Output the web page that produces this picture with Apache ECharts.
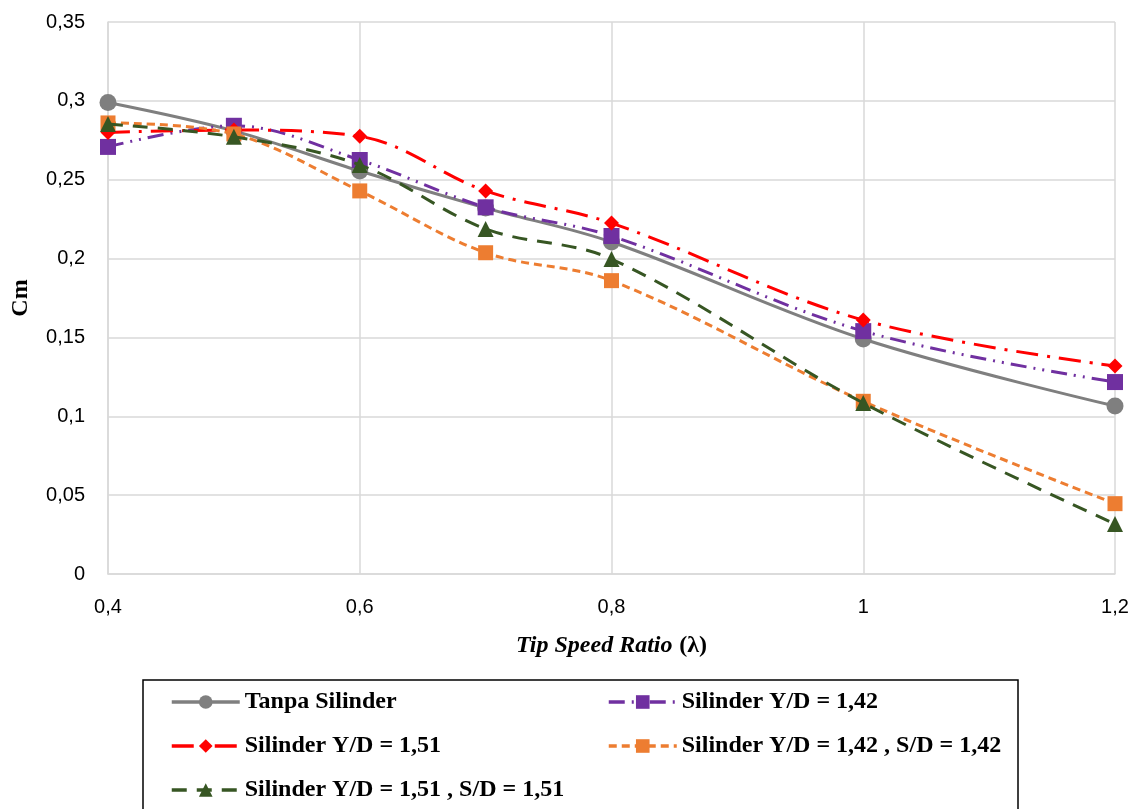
<!DOCTYPE html>
<html>
<head>
<meta charset="utf-8">
<script src="https://cdn.jsdelivr.net/npm/echarts@6/dist/echarts.min.js"></script>
<style>
  html, body { margin: 0; padding: 0; background: #fff; }
  #chart { width: 1141px; height: 809px; }
</style>
</head>
<body>
<div id="chart"></div>
<script>
// Tip speed ratio values (x)
const tsr = [0.4, 0.5, 0.6, 0.7, 0.8, 1.0, 1.2];

// Moment coefficient Cm for each configuration
const tanpaSilinder = [0.299, 0.281, 0.2555, 0.232, 0.2105, 0.149, 0.1065];
const silinderYD142 = [0.2708, 0.2842, 0.2625, 0.2325, 0.2143, 0.154, 0.1217];
const silinderYD151 = [0.280, 0.2815, 0.2775, 0.2429, 0.2225, 0.161, 0.1319];
const silinderYD142SD142 = [0.286, 0.279, 0.2429, 0.2037, 0.1860, 0.1095, 0.0446];
const silinderYD151SD151 = [0.2853, 0.2772, 0.2594, 0.2188, 0.1997, 0.1084, 0.0317];

const seriesNames = [
  'Tanpa Silinder',
  'Silinder Y/D = 1,42',
  'Silinder Y/D = 1,51',
  'Silinder Y/D = 1,42 , S/D = 1,42',
  'Silinder Y/D = 1,51 , S/D = 1,51'
];

const pair = (ys) => tsr.map((x, i) => [x, ys[i]]);
const comma = (v) => String(+v.toFixed(4)).replace('.', ',');

const chart = echarts.init(document.getElementById('chart'), null, { renderer: 'canvas' });

const legendText = {
  fontFamily: '"Liberation Serif", "Times New Roman", serif',
  fontWeight: 'bold',
  fontSize: 24,
  color: '#000'
};

// legend slots: two columns, three rows
const legendSlots = [
  { name: seriesNames[0], left: 170, top: 690 },
  { name: seriesNames[1], left: 607, top: 690 },
  { name: seriesNames[2], left: 170, top: 734 },
  { name: seriesNames[3], left: 607, top: 734 },
  { name: seriesNames[4], left: 170, top: 778 }
];

const axisLabelStyle = {
  formatter: comma,
  fontFamily: '"Liberation Sans", Arial, sans-serif',
  fontSize: 20,
  color: '#000',
  margin: 23
};

const gridLine = { color: '#d9d9d9', width: 1.5 };

chart.setOption({
  animation: false,
  backgroundColor: '#fff',
  grid: { left: 108, right: 26, top: 22, bottom: 235, containLabel: false, outerBoundsMode: 'none' },
  xAxis: {
    type: 'value',
    min: 0.4,
    max: 1.2,
    interval: 0.2,
    name: '{i|Tip Speed Ratio}  {b|(λ)}',
    nameLocation: 'middle',
    nameGap: 60,
    nameTextStyle: {
      rich: {
        i: { fontFamily: '"Liberation Serif", serif', fontWeight: 'bold', fontStyle: 'italic', fontSize: 24, color: '#000' },
        b: { fontFamily: '"Liberation Serif", serif', fontWeight: 'bold', fontSize: 24, color: '#000' }
      }
    },
    axisLine: { show: true, lineStyle: gridLine },
    axisTick: { show: false },
    splitLine: { show: true, lineStyle: gridLine },
    axisLabel: axisLabelStyle
  },
  yAxis: {
    type: 'value',
    min: 0,
    max: 0.35,
    interval: 0.05,
    name: 'Cm',
    nameLocation: 'middle',
    nameGap: 75,
    nameTextStyle: {
      fontFamily: '"Liberation Serif", serif',
      fontWeight: 'bold',
      fontSize: 24,
      color: '#000'
    },
    axisLine: { show: true, lineStyle: gridLine },
    axisTick: { show: false },
    splitLine: { show: true, lineStyle: gridLine },
    axisLabel: axisLabelStyle
  },
  legend: legendSlots.map((s) => ({
    data: [s.name],
    left: s.left,
    top: s.top,
    itemWidth: 68,
    itemHeight: 17,
    lineStyle: { width: 3.5 },
    textStyle: legendText,
    padding: 0
  })),
  graphic: [
    {
      type: 'rect',
      shape: { x: 143, y: 680, width: 875, height: 140 },
      style: { fill: 'none', stroke: '#000', lineWidth: 1.5 },
      silent: true,
      z: -1
    }
  ],
  series: [
    {
      name: seriesNames[0],
      type: 'line',
      smooth: 0.35,
      data: pair(tanpaSilinder),
      symbol: 'circle',
      symbolSize: 17,
      itemStyle: { color: '#7f7f7f' },
      lineStyle: { color: '#7f7f7f', width: 3, type: 'solid' },
      z: 2
    },
    {
      name: seriesNames[1],
      type: 'line',
      smooth: 0.35,
      data: pair(silinderYD142),
      symbol: 'rect',
      symbolSize: 16,
      itemStyle: { color: '#7030a0' },
      lineStyle: { color: '#7030a0', width: 3, type: [16, 7, 2, 7, 2, 7] },
      z: 3
    },
    {
      name: seriesNames[2],
      type: 'line',
      smooth: 0.35,
      data: pair(silinderYD151),
      symbol: 'diamond',
      symbolSize: 15,
      itemStyle: { color: '#ff0000' },
      lineStyle: { color: '#ff0000', width: 3, type: [22, 9, 3, 9] },
      z: 4
    },
    {
      name: seriesNames[3],
      type: 'line',
      smooth: 0.35,
      data: pair(silinderYD142SD142),
      symbol: 'rect',
      symbolSize: 15,
      itemStyle: { color: '#ed7d31' },
      lineStyle: { color: '#ed7d31', width: 3, type: [8, 5] },
      z: 5
    },
    {
      name: seriesNames[4],
      type: 'line',
      smooth: 0.35,
      data: pair(silinderYD151SD151),
      symbol: 'triangle',
      symbolSize: 16,
      itemStyle: { color: '#375623' },
      lineStyle: { color: '#375623', width: 3, type: [15, 10] },
      z: 6
    }
  ]
});
</script>
</body>
</html>
